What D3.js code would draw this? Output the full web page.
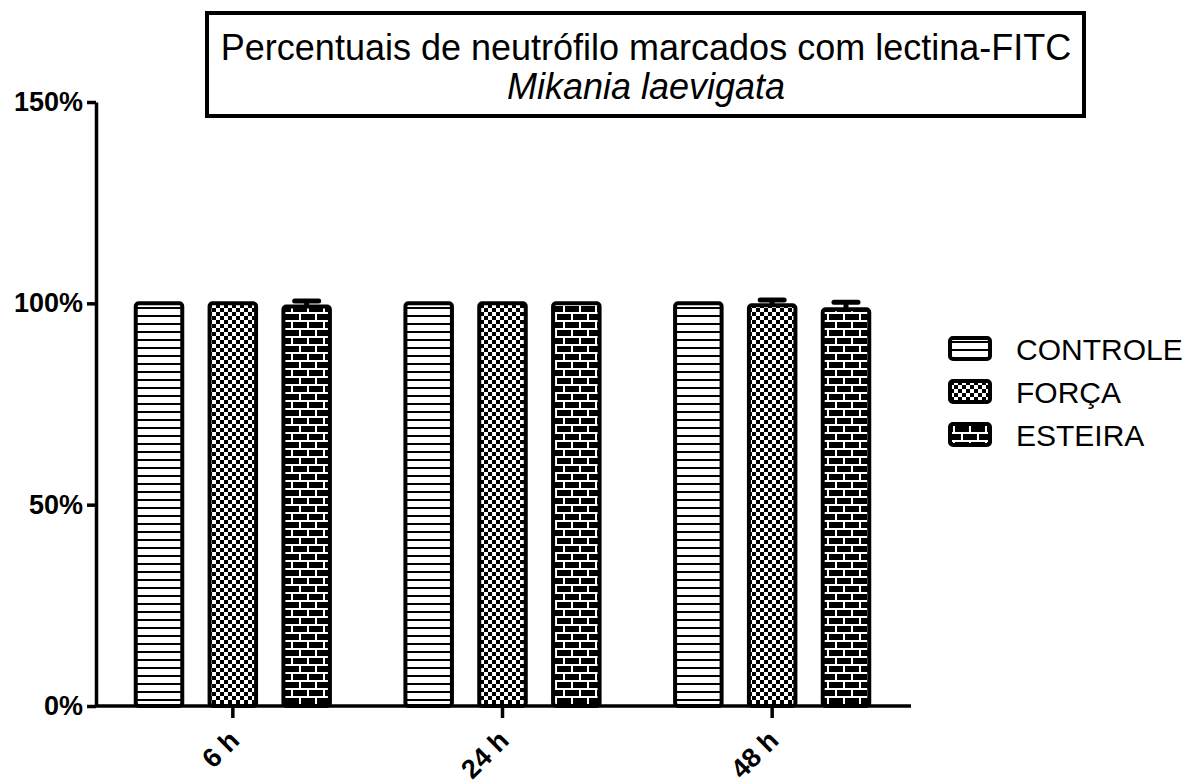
<!DOCTYPE html>
<html>
<head>
<meta charset="utf-8">
<script src="https://cdn.jsdelivr.net/npm/d3@7"></script>
<style>
  body { margin: 0; background: #fff; }
  svg { display: block; font-family: "Liberation Sans", Arial, sans-serif; }
</style>
</head>
<body>
<div id="chart"></div>
<script>
// data
const groups = ["6 h", "24 h", "48 h"];
const series = ["CONTROLE", "FORÇA", "ESTEIRA"];
const controle = [100, 100, 100];
const forca = [100, 100, 99.5];
const esteira = [99.2, 100, 98.5];
const controleErr = [0, 0, 0];
const forcaErr = [0, 0, 1.3];
const esteiraErr = [1.4, 0, 1.8];
const yTicks = [0, 50, 100, 150];

const values = [controle, forca, esteira];
const errors = [controleErr, forcaErr, esteiraErr];
const patternIds = ["pat-lines", "pat-check", "pat-brick"];

const width = 1182, height = 780;
const margin = {left: 96, right: 271, top: 102, bottom: 74};

const svg = d3.select("#chart").append("svg")
    .attr("width", width)
    .attr("height", height);

// patterns
const defs = svg.append("defs");

let p = defs.append("pattern").attr("id", "pat-lines")
    .attr("patternUnits", "userSpaceOnUse").attr("width", 8).attr("height", 8);
p.append("rect").attr("width", 8).attr("height", 8).attr("fill", "#fff");
p.append("rect").attr("y", 3).attr("width", 8).attr("height", 2).attr("fill", "#000");

p = defs.append("pattern").attr("id", "pat-check")
    .attr("patternUnits", "userSpaceOnUse").attr("width", 8).attr("height", 8);
p.append("rect").attr("width", 8).attr("height", 8).attr("fill", "#fff");
p.append("rect").attr("width", 4).attr("height", 4).attr("fill", "#000");
p.append("rect").attr("x", 4).attr("y", 4).attr("width", 4).attr("height", 4).attr("fill", "#000");

p = defs.append("pattern").attr("id", "pat-brick")
    .attr("patternUnits", "userSpaceOnUse").attr("width", 16).attr("height", 16);
p.append("rect").attr("width", 16).attr("height", 16).attr("fill", "#000");
p.append("rect").attr("y", 0).attr("width", 16).attr("height", 2).attr("fill", "#fff");
p.append("rect").attr("y", 8).attr("width", 16).attr("height", 2).attr("fill", "#fff");
p.append("rect").attr("x", 3).attr("y", 0).attr("width", 2).attr("height", 8).attr("fill", "#fff");
p.append("rect").attr("x", 11).attr("y", 8).attr("width", 2).attr("height", 8).attr("fill", "#fff");

// scales
const y = d3.scaleLinear()
    .domain([0, 150])
    .range([height - margin.bottom, margin.top]);

const x0 = d3.scaleBand()
    .domain(groups)
    .range([margin.left + 2, width - margin.right - 4])
    .paddingInner(0.28)
    .paddingOuter(0.14);

const x1 = d3.scaleBand()
    .domain(series)
    .range([0, x0.bandwidth()])
    .paddingInner(0.37);

// bars
const g = svg.append("g");
series.forEach((s, si) => {
  groups.forEach((grp, gi) => {
    const v = values[si][gi];
    const bx = x0(grp) + x1(s);
    g.append("rect")
        .attr("x", bx)
        .attr("y", y(v))
        .attr("width", x1.bandwidth())
        .attr("height", y(0) - y(v))
        .attr("rx", 3)
        .attr("fill", "url(#" + patternIds[si] + ")")
        .attr("stroke", "#000")
        .attr("stroke-width", 4);
    const e = errors[si][gi];
    if (e > 0) {
      const cx = bx + x1.bandwidth() / 2;
      g.append("line")
          .attr("x1", cx).attr("x2", cx)
          .attr("y1", y(v)).attr("y2", y(v + e))
          .attr("stroke", "#000").attr("stroke-width", 5);
      g.append("line")
          .attr("x1", cx - 12).attr("x2", cx + 12)
          .attr("y1", y(v + e)).attr("y2", y(v + e))
          .attr("stroke", "#000").attr("stroke-width", 5)
          .attr("stroke-linecap", "round");
    }
  });
});

// y axis
const yAxis = svg.append("g")
    .attr("transform", "translate(" + margin.left + ",0)")
    .call(d3.axisLeft(y).tickValues(yTicks).tickFormat(d => d + "%").tickSize(9).tickSizeOuter(0));
yAxis.select(".domain").attr("stroke-width", 3.5);
yAxis.selectAll(".tick line").attr("stroke-width", 3.5);
yAxis.selectAll(".tick text")
    .attr("x", -13)
    .style("font-size", "27px")
    .style("font-weight", "bold")
    .style("font-family", "'Liberation Sans', Arial, sans-serif")
    .attr("fill", "#000");

// x axis
const xAxis = svg.append("g")
    .attr("transform", "translate(0," + y(0) + ")")
    .call(d3.axisBottom(x0).tickSize(12).tickSizeOuter(0));
xAxis.select(".domain")
    .attr("d", "M" + margin.left + ",0H" + (width - margin.right))
    .attr("stroke-width", 3.5);
xAxis.selectAll(".tick line").attr("stroke-width", 3.5);
xAxis.selectAll(".tick text")
    .style("font-size", "27px")
    .style("font-weight", "bold")
    .style("font-family", "'Liberation Sans', Arial, sans-serif")
    .attr("fill", "#000")
    .attr("text-anchor", "end")
    .attr("dy", 0)
    .attr("y", 0).attr("x", 0)
    .attr("transform", "translate(8,36) rotate(-45)");

// title box
const tb = svg.append("g");
tb.append("rect")
    .attr("x", 207).attr("y", 13)
    .attr("width", 877).attr("height", 103)
    .attr("fill", "#fff").attr("stroke", "#000").attr("stroke-width", 4);
tb.append("text")
    .attr("x", 646).attr("y", 60)
    .attr("text-anchor", "middle")
    .style("font-size", "36px")
    .text("Percentuais de neutrófilo marcados com lectina-FITC");
tb.append("text")
    .attr("x", 646).attr("y", 99)
    .attr("text-anchor", "middle")
    .style("font-size", "36px")
    .style("font-style", "italic")
    .text("Mikania laevigata");

// legend
const leg = svg.append("g").attr("transform", "translate(950,338)");
series.forEach((s, i) => {
  const row = leg.append("g").attr("transform", "translate(0," + (i * 43) + ")");
  row.append("rect")
      .attr("x", 0).attr("y", 0).attr("width", 40).attr("height", 21)
      .attr("rx", 3)
      .attr("fill", "url(#" + patternIds[i] + ")")
      .attr("stroke", "#000").attr("stroke-width", 4);
  row.append("text")
      .attr("x", 66).attr("y", 22)
      .style("font-size", "30px")
      .text(s);
});
</script>
</body>
</html>
